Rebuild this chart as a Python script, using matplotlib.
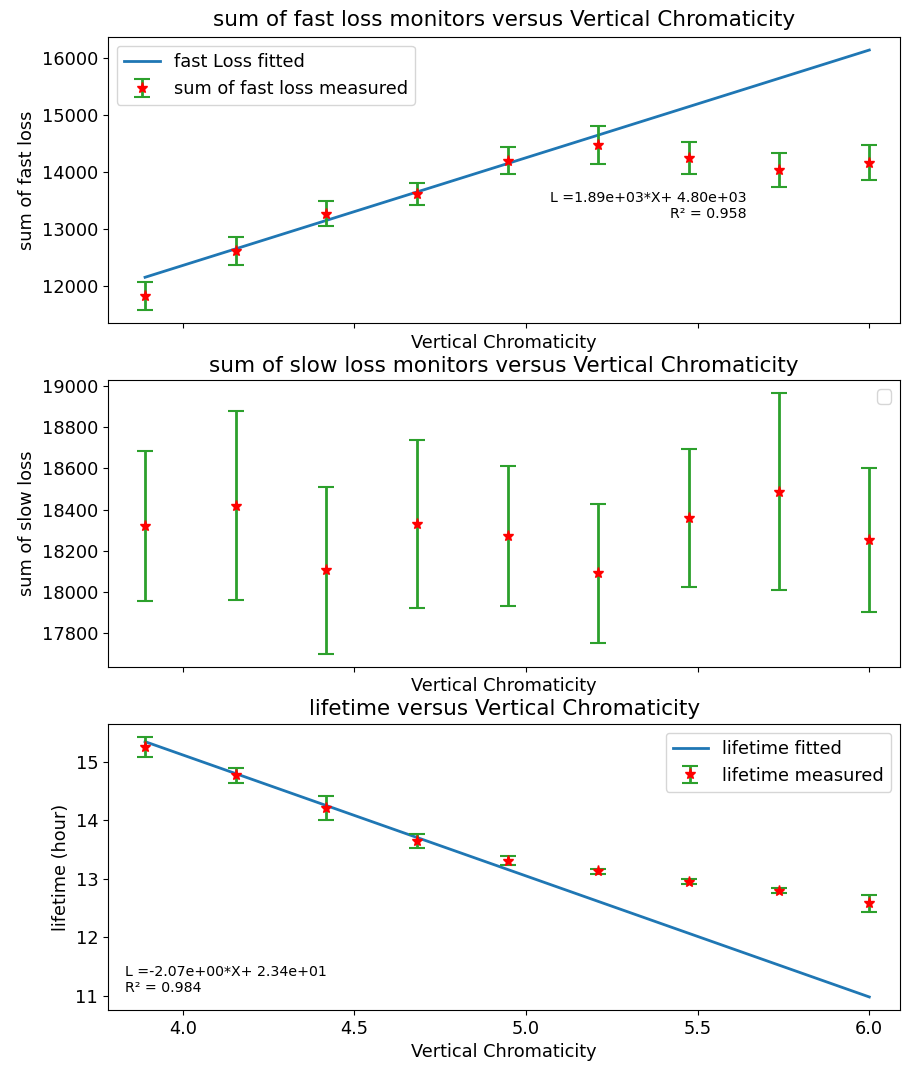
import matplotlib
matplotlib.use("Agg")
import matplotlib.pyplot as plt
import numpy as np

# vertical chromaticity settings
chroma = [3.89, 4.154, 4.418, 4.682, 4.946, 5.21, 5.474, 5.738, 6.0]

fastLoss = [11820, 12611, 13264, 13614, 14196, 14475, 14253, 14038, 14166]
fastErr = [245, 245, 220, 200, 240, 340, 280, 295, 300]
fastFit = (1.89e3, 4.80e3)
fastR2 = 0.958

slowLoss = [18322, 18419, 18105, 18331, 18273, 18091, 18359, 18488, 18254]
slowErr = [363, 459, 403, 407, 338, 338, 333, 476, 350]

lifetime = [15.26, 14.77, 14.21, 13.65, 13.31, 13.13, 12.95, 12.80, 12.58]
lifeErr = [0.17, 0.125, 0.2, 0.12, 0.08, 0.04, 0.04, 0.05, 0.15]
lifeFit = (-2.07, 23.4)
lifeR2 = 0.984

plt.rcParams['font.size'] = 12.8

fig, (ax1, ax2, ax3) = plt.subplots(3, 1, sharex=True, figsize=(9.02, 10.70), dpi=100)
fig.subplots_adjust(left=0.1197, right=0.998, top=0.9654, bottom=0.0561, hspace=0.2)

x = np.array(chroma)
ebStyle = dict(fmt='r*', ecolor='tab:green', capsize=5.5, elinewidth=2, capthick=1.5, markersize=8)

# fast loss
ax1.plot(x, fastFit[0] * x + fastFit[1], label="fast Loss fitted", lw=2)
ax1.errorbar(x, fastLoss, yerr=fastErr, label="sum of fast loss measured", **ebStyle)
ax1.set_title("sum of fast loss monitors versus Vertical Chromaticity", fontsize=15.5, pad=8)
ax1.set_xlabel("Vertical Chromaticity")
ax1.set_ylabel("sum of fast loss")
ax1.legend(loc="upper left")
ax1.annotate("L =%.2e*X+ %.2e\nR² = %.3f" % (fastFit[0], fastFit[1], fastR2),
             xy=(0.806, 0.41), xycoords="axes fraction", ha="right", va="center",
             multialignment="right", fontsize=10.2)
ax1.tick_params(labelbottom=False)

# slow loss
ax2.errorbar(x, slowLoss, yerr=slowErr, **ebStyle)
ax2.set_title("sum of slow loss monitors versus Vertical Chromaticity", fontsize=15.5)
ax2.set_xlabel("Vertical Chromaticity")
ax2.set_ylabel("sum of slow loss")
ax2.legend(handles=[], loc="upper right")
ax2.tick_params(labelbottom=False)

# lifetime
ax3.plot(x, lifeFit[0] * x + lifeFit[1], label="lifetime fitted", lw=2)
ax3.errorbar(x, lifetime, yerr=lifeErr, label="lifetime measured", **ebStyle)
ax3.set_title("lifetime versus Vertical Chromaticity", fontsize=15.5)
ax3.set_xlabel("Vertical Chromaticity")
ax3.set_ylabel("lifetime (hour)")
ax3.legend(loc="upper right")
ax3.annotate("L =%.2e*X+ %.2e\nR² = %.3f" % (lifeFit[0], lifeFit[1], lifeR2),
             xy=(0.021, 0.105), xycoords="axes fraction", ha="left", va="center",
             fontsize=10.2)
ax3.set_xlim(3.782, 6.09)

plt.savefig("out.png", dpi=100)
